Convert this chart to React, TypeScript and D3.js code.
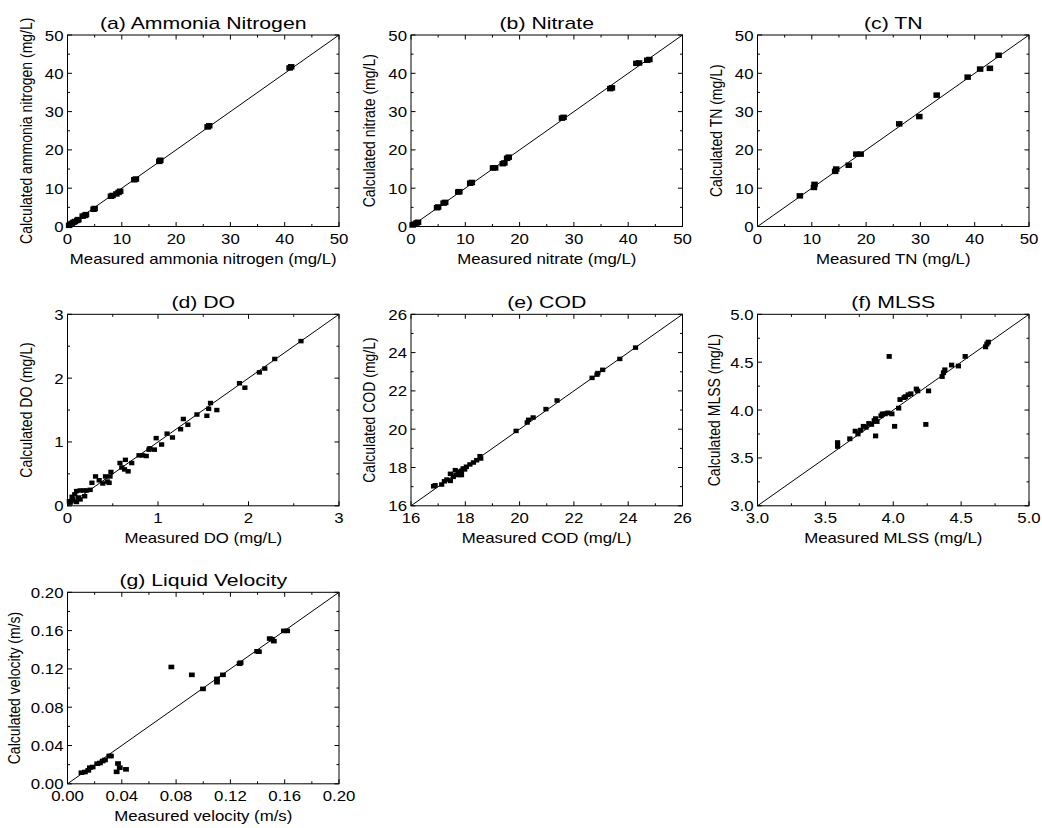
import React from "react";
import * as d3 from "d3";

// ---------- data ----------
const ammoniaMeasured = [0.3, 0.5, 0.8, 1.1, 1.4, 1.8, 2.0, 2.8, 3.2, 3.4, 4.8, 5.0, 8.0, 8.3, 9.0, 9.4, 9.7, 12.3, 12.6, 16.9, 17.1, 25.8, 26.1, 40.9, 41.2];
const ammoniaCalculated = [0.3, 0.6, 0.8, 1.1, 1.3, 1.6, 1.8, 2.7, 2.9, 3.1, 4.5, 4.7, 7.9, 8.1, 8.5, 8.9, 9.2, 12.2, 12.4, 17.0, 17.3, 26.0, 26.3, 41.4, 41.7];

const nitrateMeasured = [0.3, 0.6, 1.0, 1.3, 4.8, 5.0, 6.0, 6.3, 8.7, 8.9, 10.9, 11.2, 15.1, 15.5, 16.9, 17.2, 17.7, 18.0, 27.8, 28.1, 36.7, 37.0, 41.5, 42.0, 43.5, 43.9];
const nitrateCalculated = [0.4, 0.6, 0.9, 1.1, 4.9, 5.1, 6.1, 6.3, 9.0, 9.1, 11.3, 11.5, 15.3, 15.3, 16.4, 16.6, 17.8, 18.1, 28.3, 28.5, 36.0, 36.2, 42.6, 42.7, 43.4, 43.6];

const tnMeasured = [7.8, 10.4, 10.5, 14.3, 14.5, 16.8, 18.2, 19.0, 26.1, 29.8, 33.0, 38.7, 41.0, 42.8, 44.4];
const tnCalculated = [8.0, 10.2, 11.0, 14.4, 15.0, 16.0, 18.9, 18.9, 26.8, 28.7, 34.3, 39.0, 41.1, 41.3, 44.7];

const doMeasured = [2.58, 2.29, 2.18, 2.12, 1.90, 1.96, 1.58, 1.56, 1.54, 1.65, 1.43, 1.28, 1.33, 1.25, 1.10, 1.16, 0.98, 1.04, 0.91, 0.96, 0.90, 0.87, 0.83, 0.79, 0.71, 0.64, 0.58, 0.60, 0.67, 0.63, 0.47, 0.48, 0.42, 0.44, 0.46, 0.31, 0.35, 0.39, 0.27, 0.25, 0.21, 0.18, 0.14, 0.10, 0.19, 0.14, 0.08, 0.06, 0.04, 0.02, 0.10, 0.03, 0.12, 0.05];
const doCalculated = [2.58, 2.30, 2.15, 2.09, 1.92, 1.85, 1.61, 1.52, 1.41, 1.50, 1.43, 1.36, 1.27, 1.20, 1.13, 1.07, 1.06, 0.96, 0.90, 0.88, 0.88, 0.78, 0.79, 0.79, 0.67, 0.72, 0.67, 0.60, 0.54, 0.57, 0.46, 0.53, 0.46, 0.38, 0.36, 0.46, 0.40, 0.35, 0.36, 0.25, 0.24, 0.24, 0.24, 0.23, 0.15, 0.10, 0.18, 0.10, 0.07, 0.07, 0.06, 0.05, 0.13, 0.14];

const codMeasured = [24.27, 23.69, 23.06, 22.88, 22.85, 22.67, 21.38, 20.97, 20.50, 20.33, 20.28, 19.87, 16.89, 16.83, 17.13, 17.23, 17.32, 17.45, 17.45, 17.56, 17.65, 17.74, 17.80, 17.86, 17.92, 17.98, 18.04, 18.17, 18.30, 18.42, 18.54, 18.57, 17.63, 17.86];
const codCalculated = [24.26, 23.67, 23.10, 22.93, 22.85, 22.68, 21.50, 21.05, 20.61, 20.49, 20.35, 19.91, 17.07, 17.02, 17.11, 17.28, 17.37, 17.30, 17.67, 17.51, 17.61, 17.78, 17.61, 17.83, 17.95, 17.90, 18.04, 18.16, 18.26, 18.38, 18.59, 18.47, 17.86, 17.61];

const mlssMeasured = [3.97, 3.59, 3.59, 3.68, 3.72, 3.74, 3.76, 3.78, 3.80, 3.82, 3.84, 3.86, 3.87, 3.88, 3.87, 3.91, 3.92, 3.94, 3.96, 3.99, 4.01, 4.04, 4.05, 4.08, 4.09, 4.11, 4.13, 4.17, 4.18, 4.26, 4.24, 4.36, 4.37, 4.38, 4.43, 4.48, 4.53, 4.68, 4.69, 4.70];
const mlssCalculated = [4.56, 3.66, 3.62, 3.70, 3.78, 3.75, 3.79, 3.83, 3.82, 3.86, 3.85, 3.89, 3.91, 3.88, 3.73, 3.94, 3.96, 3.96, 3.97, 3.96, 3.83, 4.02, 4.11, 4.13, 4.14, 4.16, 4.17, 4.22, 4.20, 4.20, 3.85, 4.35, 4.39, 4.42, 4.47, 4.46, 4.56, 4.66, 4.69, 4.71];

const velocityMeasured = [0.0765, 0.0916, 0.0998, 0.1101, 0.1101, 0.1145, 0.1268, 0.1275, 0.1397, 0.1410, 0.1490, 0.1520, 0.1505, 0.1594, 0.1618, 0.0103, 0.0128, 0.0153, 0.0165, 0.0185, 0.0219, 0.0239, 0.0259, 0.0276, 0.0308, 0.0320, 0.0362, 0.0372, 0.0385, 0.0431];
const velocityCalculated = [0.1220, 0.1138, 0.0991, 0.1096, 0.1061, 0.1138, 0.1254, 0.1265, 0.1384, 0.1380, 0.1517, 0.1490, 0.1510, 0.1597, 0.1597, 0.0116, 0.0123, 0.0140, 0.0168, 0.0175, 0.0210, 0.0217, 0.0238, 0.0249, 0.0291, 0.0290, 0.0125, 0.0212, 0.0168, 0.0151];

const nitrogenTicks = [0, 10, 20, 30, 40, 50];
const doTicks = [0, 1, 2, 3];
const codTicks = [16, 18, 20, 22, 24, 26];
const mlssTicks = [3.0, 3.5, 4.0, 4.5, 5.0];
const velocityTicks = [0.0, 0.04, 0.08, 0.12, 0.16, 0.2];

const panelTitles = ["(a) Ammonia Nitrogen", "(b) Nitrate", "(c) TN", "(d) DO", "(e) COD", "(f) MLSS", "(g) Liquid Velocity"];
const xTitles = ["Measured ammonia nitrogen (mg/L)", "Measured nitrate (mg/L)", "Measured TN (mg/L)", "Measured DO (mg/L)", "Measured COD (mg/L)", "Measured MLSS (mg/L)", "Measured velocity (m/s)"];
const yTitles = ["Calculated ammonia nitrogen (mg/L)", "Calculated nitrate (mg/L)", "Calculated TN (mg/L)", "Calculated DO (mg/L)", "Calculated COD (mg/L)", "Calculated MLSS (mg/L)", "Calculated velocity (m/s)"];

// ---------- layout ----------
const FONT = "'Liberation Sans', Arial, Helvetica, sans-serif";
const SX = 1.2; // horizontal stretch of text in the reference
const colLeft = [67.5, 411, 757.5];
const rowTop = [35, 314.3, 592.3];
const PW = 271.5;
const PH = 191.5;

type Panel = {
  xs: number[];
  ys: number[];
  ticks: number[];
  fmt: (v: number) => string;
  col: number;
  row: number;
  mw: number;
  mh: number;
  yOff: number;
};

const fmt0 = (v: number) => d3.format("d")(v);
const fmt1 = (v: number) => d3.format(".1f")(v);
const fmt2 = (v: number) => d3.format(".2f")(v);

const panels: Panel[] = [
  { xs: ammoniaMeasured, ys: ammoniaCalculated, ticks: nitrogenTicks, fmt: fmt0, col: 0, row: 0, mw: 6.5, mh: 5.5, yOff: 36 },
  { xs: nitrateMeasured, ys: nitrateCalculated, ticks: nitrogenTicks, fmt: fmt0, col: 1, row: 0, mw: 6.5, mh: 5.5, yOff: 36 },
  { xs: tnMeasured, ys: tnCalculated, ticks: nitrogenTicks, fmt: fmt0, col: 2, row: 0, mw: 6.5, mh: 5.5, yOff: 36 },
  { xs: doMeasured, ys: doCalculated, ticks: doTicks, fmt: fmt0, col: 0, row: 1, mw: 5.2, mh: 4.5, yOff: 36 },
  { xs: codMeasured, ys: codCalculated, ticks: codTicks, fmt: fmt0, col: 1, row: 1, mw: 5.2, mh: 4.5, yOff: 36 },
  { xs: mlssMeasured, ys: mlssCalculated, ticks: mlssTicks, fmt: fmt1, col: 2, row: 1, mw: 5.2, mh: 4.8, yOff: 38 },
  { xs: velocityMeasured, ys: velocityCalculated, ticks: velocityTicks, fmt: fmt2, col: 0, row: 2, mw: 5.8, mh: 4.6, yOff: 48 },
];

function ScatterPanel({ p, i }: { p: Panel; i: number }) {
  const left = colLeft[p.col];
  const top = rowTop[p.row];
  const lo = p.ticks[0];
  const hi = p.ticks[p.ticks.length - 1];
  const x = d3.scaleLinear().domain([lo, hi]).range([left, left + PW]);
  const y = d3.scaleLinear().domain([lo, hi]).range([top + PH, top]);
  const minor = d3.pairs(p.ticks).map(([a, b]) => (a + b) / 2);
  const bottom = top + PH;
  const right = left + PW;
  const MAJ = 4.5;
  const MIN = 2.5;
  return (
    <g>
      {/* ticks, inward on all four sides */}
      {p.ticks.map((t, k) => (
        <g key={"M" + k} stroke="#000" strokeWidth={1}>
          <line x1={x(t)} x2={x(t)} y1={bottom} y2={bottom - MAJ} />
          <line x1={x(t)} x2={x(t)} y1={top} y2={top + MAJ} />
          <line x1={left} x2={left + MAJ} y1={y(t)} y2={y(t)} />
          <line x1={right} x2={right - MAJ} y1={y(t)} y2={y(t)} />
        </g>
      ))}
      {minor.map((t, k) => (
        <g key={"m" + k} stroke="#000" strokeWidth={1}>
          <line x1={x(t)} x2={x(t)} y1={bottom} y2={bottom - MIN} />
          <line x1={x(t)} x2={x(t)} y1={top} y2={top + MIN} />
          <line x1={left} x2={left + MIN} y1={y(t)} y2={y(t)} />
          <line x1={right} x2={right - MIN} y1={y(t)} y2={y(t)} />
        </g>
      ))}
      {/* 1:1 line */}
      <line x1={x(lo)} y1={y(lo)} x2={x(hi)} y2={y(hi)} stroke="#000" strokeWidth={1} />
      {/* points */}
      {p.xs.map((v, k) => (
        <rect key={"p" + k} x={x(v) - p.mw / 2} y={y(p.ys[k]) - p.mh / 2} width={p.mw} height={p.mh} fill="#000" />
      ))}
      {/* frame */}
      <rect x={left} y={top} width={PW} height={PH} fill="none" stroke="#000" strokeWidth={1} />
      {/* tick labels */}
      {p.ticks.map((t, k) => (
        <text key={"xl" + k} transform={`translate(${x(t)},${bottom + 17.5}) scale(${SX},1)`} textAnchor="middle" fontSize={14}>
          {p.fmt(t)}
        </text>
      ))}
      {p.ticks.map((t, k) => (
        <text key={"yl" + k} transform={`translate(${left - 4},${y(t) + 5.5}) scale(${SX},1)`} textAnchor="end" fontSize={14}>
          {p.fmt(t)}
        </text>
      ))}
      {/* titles */}
      <text transform={`translate(${(left + right) / 2},${top - 6}) scale(1.25,1)`} textAnchor="middle" fontSize={17}>
        {panelTitles[i]}
      </text>
      <text transform={`translate(${(left + right) / 2},${bottom + 37}) scale(${SX},1)`} textAnchor="middle" fontSize={14}>
        {xTitles[i]}
      </text>
      <text transform={`translate(${left - p.yOff},${(top + bottom) / 2}) scale(${SX},1) rotate(-90)`} textAnchor="middle" fontSize={14}>
        {yTitles[i]}
      </text>
    </g>
  );
}

export default function App() {
  return (
    <svg
      width={1042}
      height={828}
      viewBox="0 0 1042 828"
      style={{ position: "absolute", left: 0, top: 0, background: "#fff" }}
      fontFamily={FONT}
    >
      <rect x={0} y={0} width={1042} height={828} fill="#fff" />
      {panels.map((p, i) => (
        <ScatterPanel key={i} p={p} i={i} />
      ))}
    </svg>
  );
}
